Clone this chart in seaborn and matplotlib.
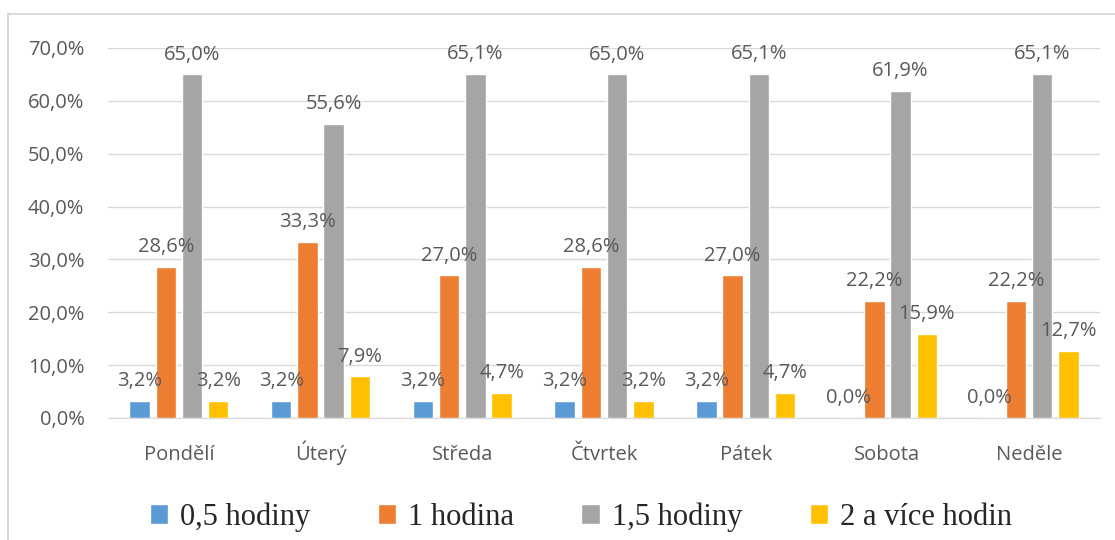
import pandas as pd
import seaborn as sns
import matplotlib.pyplot as plt
from matplotlib.patches import Rectangle
from matplotlib.ticker import FuncFormatter

# data (percent)
dny = ['Pondělí', 'Úterý', 'Středa', 'Čtvrtek', 'Pátek', 'Sobota', 'Neděle']
skupiny = ['0,5 hodiny', '1 hodina', '1,5 hodiny', '2 a více hodin']
h05 = [3.2, 3.2, 3.2, 3.2, 3.2, 0.0, 0.0]
h1 = [28.6, 33.3, 27.0, 28.6, 27.0, 22.2, 22.2]
h15 = [65.0, 55.6, 65.1, 65.0, 65.1, 61.9, 65.1]
h2 = [3.2, 7.9, 4.7, 3.2, 4.7, 15.9, 12.7]
barvy = ['#5B9BD5', '#ED7D31', '#A5A5A5', '#FFC000']

df = pd.DataFrame({'den': dny * 4,
                   'skupina': [s for s in skupiny for _ in dny],
                   'podil': h05 + h1 + h15 + h2})

sns.set_style('white')
plt.rcParams['font.family'] = ['Open Sans', 'DejaVu Sans']
txt = '#595959'

fig = plt.figure(figsize=(11.15, 5.4), dpi=100)
# light frame like the Excel chart area
fig.patches.append(Rectangle((8 / 1115, -0.1), 1.2, (540 - 14) / 540 + 0.1,
                             transform=fig.transFigure, fill=False,
                             edgecolor='#D9D9D9', linewidth=1.5))
ax = fig.add_axes([108 / 1115, 122 / 540, 992 / 1115, 370 / 540])

sns.barplot(data=df, x='den', y='podil', hue='skupina', order=dny,
            hue_order=skupiny, palette=barvy, width=0.74, gap=0.22,
            saturation=1, ax=ax, legend=True)

for c in ax.containers:
    ax.bar_label(c, labels=[f'{v:.1f}%'.replace('.', ',') for v in c.datavalues],
                 padding=7, fontsize=14.5, color=txt)

ax.set_ylim(0, 70)
ax.set_yticks(range(0, 71, 10))
ax.yaxis.set_major_formatter(FuncFormatter(lambda v, p: f'{v:.1f}%'.replace('.', ',')))
ax.grid(axis='y', color='#D9D9D9', linewidth=1)
ax.set_axisbelow(True)
ax.set_xlabel('')
ax.set_ylabel('')
for s in ['top', 'right', 'left']:
    ax.spines[s].set_visible(False)
ax.spines['bottom'].set_color('#D9D9D9')
ax.tick_params(axis='y', length=0, pad=17, labelsize=14.5, labelcolor=txt)
ax.tick_params(axis='x', length=0, pad=30, labelsize=14.5, labelcolor=txt)
for t in ax.get_xticklabels():
    t.set_verticalalignment('baseline')

h, l = ax.get_legend_handles_labels()
ax.get_legend().remove()
fig.legend(h, l, loc='center', bbox_to_anchor=(0.521, 23 / 540), ncol=4,
           frameon=False, handlelength=0.6, handleheight=0.6, handletextpad=0.4,
           columnspacing=2.2, prop={'family': 'Liberation Serif', 'size': 22})

fig.savefig('out.png', dpi=100)
